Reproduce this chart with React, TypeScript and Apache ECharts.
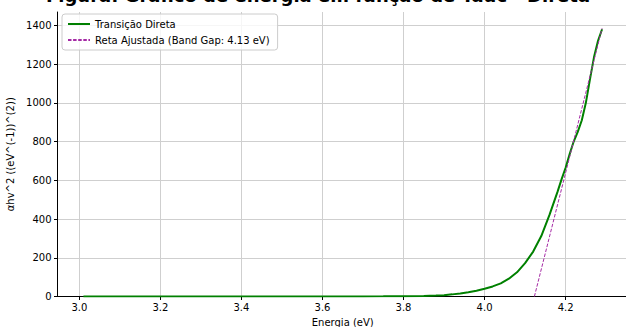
import React, { useEffect, useRef } from "react";
import * as echarts from "echarts";

const energy = [3.01, 3.1, 3.2, 3.3, 3.4, 3.5, 3.6, 3.7, 3.75, 3.8, 3.85, 3.88, 3.9, 3.92, 3.94, 3.96, 3.98, 4.0, 4.02, 4.04, 4.06, 4.08, 4.1, 4.12, 4.14, 4.16, 4.18, 4.19, 4.2, 4.21, 4.22, 4.23, 4.24, 4.25, 4.26, 4.27, 4.28, 4.29];
const alphaHv2 = [0, 0, 0, 0, 0.1, 0.1, 0.2, 0.4, 0.7, 1.2, 3, 5, 7, 11, 16, 22, 30, 40, 52, 68, 92, 125, 172, 232, 312, 420, 540, 605, 665, 735, 800, 850, 910, 1000, 1120, 1235, 1320, 1380];
const fitEnergy = [4.123, 4.29];
const fitValues = [0, 1385];
const xTicks = [3.0, 3.2, 3.4, 3.6, 3.8, 4.0, 4.2];
const yTicks = [0, 200, 400, 600, 800, 1000, 1200, 1400];
const seriesNames = ["Transição Direta", "Reta Ajustada (Band Gap: 4.13 eV)"];
const titleText = "Figura: Gráfico de energia em função de Tauc - Direta";
const xName = "Energia (eV)";
const yName = "αhv^2 ((eV^(-1))^(2))";

const FONT = "DejaVu Sans";

export default function App() {
  const ref = useRef<HTMLDivElement>(null);
  useEffect(() => {
    if (!ref.current) return;
    const chart = echarts.init(ref.current, null, { renderer: "svg" });
    const axisCommon = {
      axisLine: { show: true, lineStyle: { color: "#000", width: 1 } },
      axisTick: { show: true, length: 3.5, lineStyle: { color: "#000" } },
      splitLine: { show: true, lineStyle: { color: "#cfcfcf", width: 1 } },
    };
    chart.setOption({
      animation: false,
      title: {
        text: titleText,
        left: 313,
        textAlign: "center",
        top: -19,
        textStyle: { fontFamily: FONT, fontSize: 18, fontWeight: "bold", color: "#000" },
      },
      legend: {
        orient: "vertical",
        left: 62,
        top: 14,
        data: seriesNames,
        backgroundColor: "rgba(255,255,255,0.8)",
        borderColor: "#cccccc",
        borderWidth: 1,
        borderRadius: 3,
        padding: [5, 8, 5, 5],
        itemGap: 6,
        itemWidth: 22,
        itemHeight: 10,
        itemStyle: { opacity: 0 },
        textStyle: { fontFamily: FONT, fontSize: 10, color: "#000" },
      },
      grid: { left: 57.5, right: -2, top: 12, bottom: 30.5, containLabel: false, outerBoundsMode: "none" },
      xAxis: {
        type: "value",
        min: 2.946,
        max: 4.354,
        name: xName,
        nameLocation: "middle",
        nameGap: 21,
        nameTextStyle: { fontFamily: FONT, fontSize: 10, color: "#000" },
        ...axisCommon,
        axisTick: { ...axisCommon.axisTick, customValues: xTicks },
        axisLabel: {
          customValues: xTicks,
          margin: 6,
          fontFamily: FONT,
          fontSize: 10,
          color: "#000",
          formatter: (v: number) => v.toFixed(1),
        },
      },
      yAxis: {
        type: "value",
        min: 0,
        max: 1469,
        name: yName,
        nameLocation: "middle",
        nameRotate: 90,
        nameGap: 33,
        nameTextStyle: { fontFamily: FONT, fontSize: 10, color: "#000" },
        ...axisCommon,
        axisTick: { ...axisCommon.axisTick, customValues: yTicks },
        axisLabel: {
          customValues: yTicks,
          margin: 6,
          fontFamily: FONT,
          fontSize: 10,
          color: "#000",
          formatter: (v: number) => String(v),
        },
      },
      series: [
        {
          name: seriesNames[0],
          type: "line",
          data: energy.map((e, i) => [e, alphaHv2[i]]),
          showSymbol: false,
          symbol: "none",
          lineStyle: { color: "#008000", width: 2 },
          itemStyle: { color: "#008000" },
          z: 3,
        },
        {
          name: seriesNames[1],
          type: "line",
          data: fitEnergy.map((e, i) => [e, fitValues[i]]),
          showSymbol: false,
          symbol: "none",
          lineStyle: { color: "#a52aa5", width: 1, type: [3.5, 1.6] },
          itemStyle: { color: "#a52aa5" },
          z: 4,
        },
      ],
    });
    return () => chart.dispose();
  }, []);
  return (
    <div
      ref={ref}
      style={{ position: "fixed", left: 0, top: 0, width: 626, height: 327, background: "#fff" }}
    />
  );
}
